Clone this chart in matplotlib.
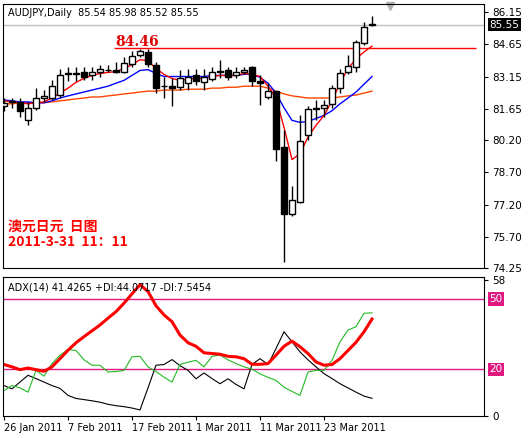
import matplotlib.pyplot as plt
import numpy as np

plt.rcParams['font.family'] = ['DejaVu Sans']

# daily AUDJPY candles, 26 Jan 2011 .. 31 Mar 2011
opens = [81.79, 81.97, 81.97, 81.15, 81.70, 82.15, 82.15, 82.29, 83.27, 83.31,
         83.34, 83.20, 83.34, 83.47, 83.43, 83.38, 83.75, 84.15, 84.29, 83.70,
         82.70, 82.70, 82.65, 82.84, 83.20, 82.88, 83.02, 83.38, 83.47, 83.20,
         83.34, 83.61, 82.93, 82.20, 82.47, 79.88, 76.75, 77.34, 80.43, 81.66,
         81.70, 81.88, 82.61, 83.34, 83.61, 84.70, 85.54]
highs = [82.15, 82.15, 82.15, 81.97, 82.61, 82.52, 82.97, 83.52, 83.61, 83.61,
         83.61, 83.61, 83.70, 83.70, 83.84, 84.06, 84.34, 84.43, 84.43, 83.84,
         83.15, 83.06, 83.43, 83.52, 83.52, 83.52, 83.61, 83.93, 83.61, 83.61,
         83.61, 83.65, 83.20, 82.84, 82.47, 80.65, 78.06, 81.34, 81.79, 82.06,
         82.06, 82.75, 83.52, 84.15, 84.84, 85.70, 85.98]
lows = [81.56, 81.70, 81.25, 80.88, 81.61, 81.97, 82.06, 82.15, 82.93, 82.93,
        82.97, 82.97, 83.15, 83.34, 83.29, 83.29, 83.61, 84.06, 83.61, 82.38,
        82.15, 81.79, 82.52, 82.52, 82.75, 82.52, 82.93, 83.06, 82.97, 83.06,
        83.25, 82.70, 81.84, 82.11, 79.20, 74.52, 76.66, 77.29, 80.20, 81.15,
        81.29, 81.70, 82.38, 83.25, 83.38, 84.61, 85.52]
closes = [81.93, 81.99, 81.56, 81.70, 82.15, 82.25, 82.70, 83.20, 83.31, 83.27,
          83.15, 83.34, 83.52, 83.43, 83.34, 83.79, 84.11, 84.34, 83.75, 82.61,
          82.72, 82.61, 83.06, 83.15, 82.93, 83.15, 83.34, 83.36, 83.15, 83.38,
          83.47, 82.93, 82.84, 82.47, 79.79, 76.75, 77.43, 80.15, 81.66, 81.70,
          81.84, 82.61, 83.29, 83.65, 84.75, 85.43, 85.55]

ma_fast = [82.02, 81.97, 81.93, 81.88, 81.93, 81.97, 82.15, 82.38, 82.61, 82.88,
           83.06, 83.20, 83.29, 83.34, 83.38, 83.52, 83.70, 83.93, 83.88, 83.52,
           83.25, 83.06, 82.97, 83.02, 83.06, 83.06, 83.15, 83.20, 83.20, 83.20,
           83.29, 83.25, 83.15, 82.70, 82.15, 80.79, 79.29, 79.56, 80.34, 80.88,
           81.34, 82.02, 82.84, 83.52, 83.97, 84.29, 84.56]
ma_mid = [82.06, 82.02, 81.97, 81.97, 81.93, 81.93, 82.02, 82.15, 82.25, 82.34,
          82.43, 82.52, 82.61, 82.70, 82.84, 82.97, 83.20, 83.43, 83.47, 83.29,
          83.15, 83.15, 83.15, 83.15, 83.15, 83.15, 83.20, 83.20, 83.20, 83.20,
          83.25, 83.25, 83.11, 82.84, 82.38, 81.70, 81.11, 81.02, 81.06, 81.20,
          81.34, 81.56, 81.88, 82.15, 82.43, 82.79, 83.15]
ma_slow = [81.88, 81.88, 81.93, 81.93, 81.93, 81.93, 81.97, 82.02, 82.06, 82.11,
           82.15, 82.20, 82.20, 82.25, 82.29, 82.34, 82.38, 82.43, 82.47, 82.47,
           82.52, 82.52, 82.52, 82.56, 82.56, 82.56, 82.61, 82.61, 82.65, 82.65,
           82.70, 82.70, 82.70, 82.61, 82.47, 82.34, 82.25, 82.20, 82.15, 82.15,
           82.15, 82.15, 82.20, 82.25, 82.29, 82.38, 82.47]

adx = [22.0, 21.0, 19.8, 20.5, 19.8, 19.1, 21.0, 24.5, 28.1, 31.3,
       33.9, 36.4, 38.9, 41.8, 44.6, 48.2, 52.2, 56.1, 53.2, 47.1,
       43.2, 40.3, 34.6, 31.3, 29.8, 27.0, 26.7, 26.4, 25.5, 25.3,
       24.5, 22.1, 22.1, 22.4, 26.0, 29.8, 32.0, 29.6, 26.7, 23.1,
       21.7, 22.0, 24.5, 28.0, 31.5, 36.0, 41.43]
plus_di = [10.9, 13.0, 12.0, 10.2, 19.5, 17.0, 22.4, 26.0, 28.4, 28.0,
           24.0, 21.7, 21.7, 18.8, 19.0, 19.5, 25.3, 25.5, 21.0, 19.0,
           16.6, 14.5, 22.0, 23.0, 23.8, 21.0, 25.5, 26.0, 24.0, 22.4,
           21.0, 20.0, 18.0, 16.5, 15.2, 12.3, 10.5, 8.8, 18.8, 19.5,
           19.5, 23.8, 31.7, 36.7, 38.2, 43.9, 44.07]
minus_di = [13.0, 11.6, 14.5, 17.4, 16.0, 14.5, 13.0, 11.8, 8.8, 7.5,
            7.0, 6.5, 5.9, 5.0, 4.4, 4.0, 3.4, 2.6, 12.0, 21.7,
            22.0, 24.1, 21.5, 19.5, 15.9, 18.4, 16.0, 13.8, 15.9, 13.5,
            11.6, 22.0, 24.5, 22.0, 28.8, 36.0, 31.7, 27.4, 24.0, 21.0,
            18.1, 16.0, 13.8, 12.0, 10.2, 8.5, 7.55]

price_ticks = [86.15, 84.65, 83.15, 81.65, 80.20, 78.70, 77.20, 75.70, 74.25]
date_pos = [0, 8, 16, 24, 32, 40]
date_labels = ['26 Jan 2011', '7 Feb 2011', '17 Feb 2011', '1 Mar 2011',
               '11 Mar 2011', '23 Mar 2011']
last_price = 85.55
level = 84.46

W, H = 529, 438
fig = plt.figure(figsize=(W / 100, H / 100), dpi=100)
ax = fig.add_axes([3 / W, (H - 268) / H, 481 / W, 264 / H])
ax2 = fig.add_axes([3 / W, (H - 416) / H, 481 / W, 139 / H])

x = np.arange(len(closes))
for i in x:
    o, h, l, c = opens[i], highs[i], lows[i], closes[i]
    ax.vlines(i, l, h, color='black', lw=1, zorder=3)
    bottom = min(o, c)
    height = max(abs(c - o), 0.03)
    ax.bar(i, height, bottom=bottom, width=0.75,
           color='white' if c >= o else 'black', edgecolor='black', lw=1, zorder=4)

ax.plot(x, ma_slow, color='#ff4500', lw=1, zorder=2)
ax.plot(x, ma_mid, color='#0000ff', lw=1, zorder=2)
ax.plot(x, ma_fast, color='#ff0000', lw=1, zorder=2)
ax.axhline(last_price, color='#c0c0c0', lw=1, zorder=1)
ax.hlines(level, 13.75, 59, color='#ff0000', lw=1, zorder=1)
ax.text(13.9, level + 0.12, '84.46', color='#e00000', fontsize=10,
        fontweight='bold', family='DejaVu Serif')
ax.plot([48.25], [86.42], marker='v', color='#b0b0b0', ms=6, clip_on=False)

ax.set_xlim(-0.125, 60)
ax.set_ylim(74.52, 86.52)
ax.yaxis.tick_right()
ax.set_yticks(price_ticks)
ax.set_yticklabels([f'{t:.2f}' for t in price_ticks], fontsize=7.5)
ax.tick_params(axis='y', length=3, pad=3)
ax.set_xticks([])
ax.text(last_price, 0, '')
ax.annotate('85.55', xy=(1, last_price), xycoords=('axes fraction', 'data'),
            xytext=(4, 0), textcoords='offset points', va='center', fontsize=7.5,
            color='white', bbox=dict(boxstyle='square,pad=0.15', fc='black', ec='none'))
ax.text(0.01, 0.985, 'AUDJPY,Daily  85.54 85.98 85.52 85.55', transform=ax.transAxes,
        fontsize=7, va='top')
ax.text(0.01, 0.085, '澳元日元  日图\n2011-3-31  11：11', transform=ax.transAxes,
        fontsize=10, color='#ff0000', fontweight='bold', linespacing=1.1,
        family=['Noto Sans CJK SC', 'DejaVu Sans'])

# ADX panel
ax2.axhline(50, color='#e0187f', lw=1)
ax2.axhline(20, color='#e0187f', lw=1)
ax2.plot(x, minus_di, color='black', lw=0.8)
ax2.plot(x, plus_di, color='#22bb22', lw=0.8)
ax2.plot(x, adx, color='#ff0000', lw=2.2)
ax2.set_xlim(-0.125, 60)
ax2.set_ylim(0, 59.4)
ax2.yaxis.tick_right()
ax2.set_yticks([0, 58])
ax2.set_yticklabels(['0', '58'], fontsize=7.5)
ax2.tick_params(axis='y', length=3, pad=3)
for v in [50, 20]:
    ax2.annotate(str(v), xy=(1, v), xycoords=('axes fraction', 'data'),
                 xytext=(4, 0), textcoords='offset points', va='center', fontsize=7.5,
                 color='white', bbox=dict(boxstyle='square,pad=0.15', fc='#e0187f', ec='none'))
ax2.set_xticks(date_pos)
ax2.set_xticklabels(date_labels, fontsize=7, ha='left')
ax2.tick_params(axis='x', length=3, pad=2)
ax2.text(0.01, 0.96, 'ADX(14) 41.4265 +DI:44.0717 -DI:7.5454', transform=ax2.transAxes,
         fontsize=7, va='top')

fig.savefig('out.png', dpi=100)
